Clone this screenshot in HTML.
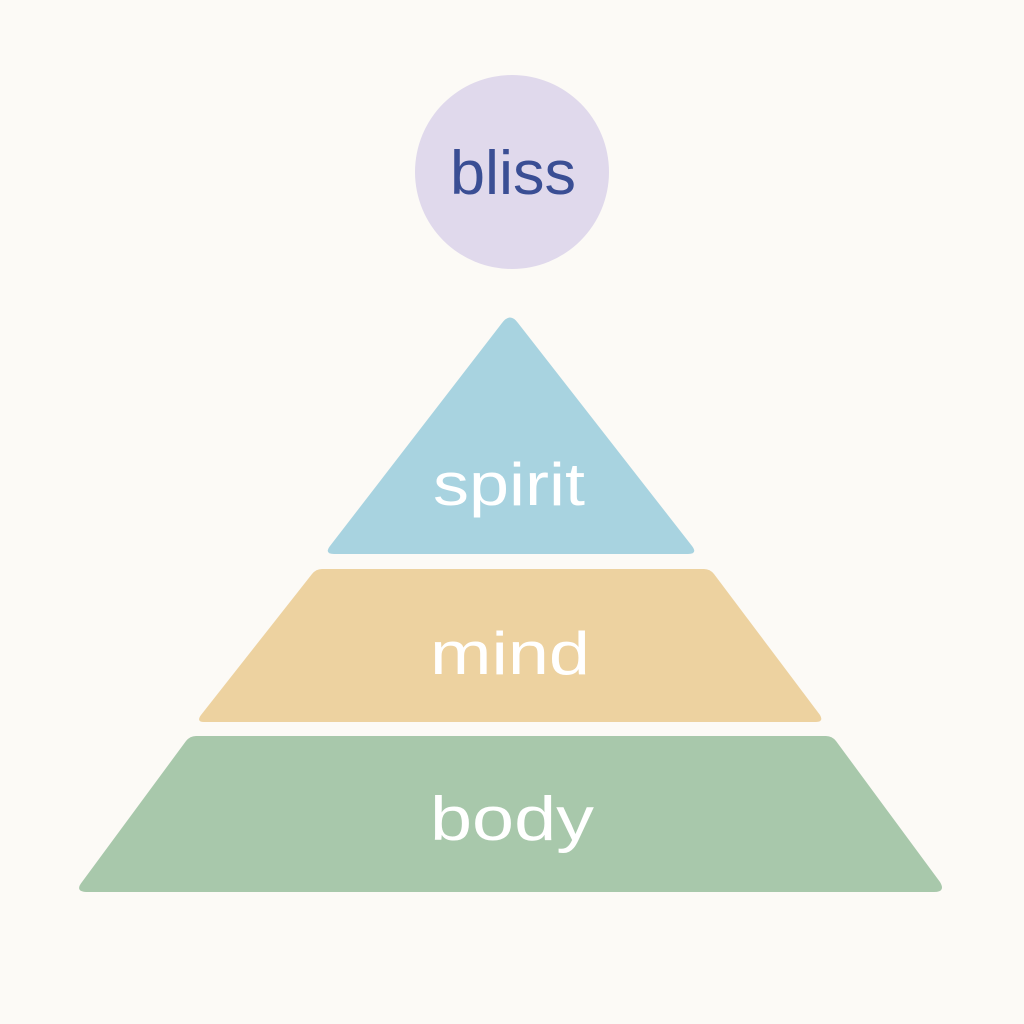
<!DOCTYPE html>
<html><head><meta charset="utf-8"><style>
html,body{margin:0;padding:0;background:#fcfaf6;}
svg{display:block}
text{font-family:"Liberation Sans",sans-serif;text-anchor:middle}
</style></head><body>
<svg width="1024" height="1024" viewBox="0 0 1024 1024">
<rect width="1024" height="1024" fill="#fcfaf6"/>
<circle cx="512" cy="172" r="97" fill="#e0d9ec"/>
<text x="513" y="194" font-size="62" fill="#3a4e94" textLength="126" lengthAdjust="spacingAndGlyphs">bliss</text>
<path d="M502,323 Q510,312 518,323 L692,546 Q698,554 688,554 L334,554 Q324,554 330,546 Z" fill="#a8d3e0"/>
<text x="509" y="505" font-size="60" fill="#ffffff" textLength="152" lengthAdjust="spacingAndGlyphs">spirit</text>
<path d="M322,569 L704,569 Q710,569 714,574 L820,715 Q824,722 816,722 L204,722 Q196,722 201,715 L312,574 Q316,569 322,569 Z" fill="#edd2a0"/>
<text x="510" y="674" font-size="60" fill="#ffffff" textLength="160" lengthAdjust="spacingAndGlyphs">mind</text>
<path d="M196,736 L826,736 Q832,736 836,741 L940,882 Q946,892 934,892 L88,892 Q74,892 82,882 L186,741 Q190,736 196,736 Z" fill="#a8c8ab"/>
<text x="512" y="840" font-size="62" fill="#ffffff" textLength="164" lengthAdjust="spacingAndGlyphs">body</text>
</svg>
</body></html>
